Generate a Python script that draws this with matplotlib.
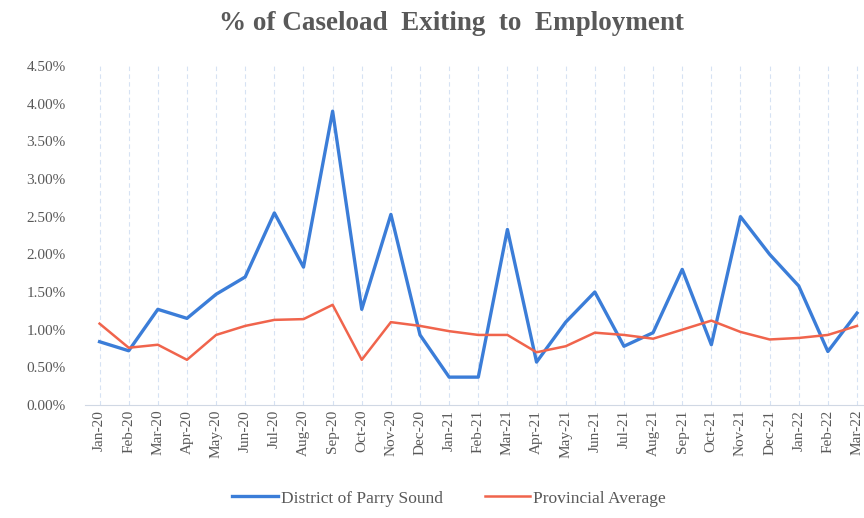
import matplotlib
matplotlib.use("Agg")
import matplotlib.pyplot as plt
from matplotlib.ticker import FuncFormatter

months = ["Jan-20", "Feb-20", "Mar-20", "Apr-20", "May-20", "Jun-20", "Jul-20",
          "Aug-20", "Sep-20", "Oct-20", "Nov-20", "Dec-20", "Jan-21", "Feb-21",
          "Mar-21", "Apr-21", "May-21", "Jun-21", "Jul-21", "Aug-21", "Sep-21",
          "Oct-21", "Nov-21", "Dec-21", "Jan-22", "Feb-22", "Mar-22"]

# % of caseload exiting to employment
parry_sound = [0.84, 0.72, 1.27, 1.15, 1.47, 1.70, 2.55, 1.83, 3.90, 1.27,
               2.53, 0.93, 0.37, 0.37, 2.33, 0.57, 1.10, 1.50, 0.78, 0.96,
               1.80, 0.80, 2.50, 2.00, 1.58, 0.71, 1.22]
provincial = [1.08, 0.76, 0.80, 0.60, 0.93, 1.05, 1.13, 1.14, 1.33, 0.60,
              1.10, 1.05, 0.98, 0.93, 0.93, 0.70, 0.78, 0.96, 0.93, 0.88,
              1.00, 1.12, 0.97, 0.87, 0.89, 0.93, 1.05]

plt.rcParams['font.family'] = ['Liberation Serif', 'DejaVu Serif']
text_color = '#595959'

fig = plt.figure(figsize=(8.64, 5.18), dpi=100)
ax = fig.add_axes([85 / 864, 113 / 518, 779 / 864, 339 / 518])

x = list(range(len(months)))
ax.plot(x, parry_sound, color='#3b7dd8', linewidth=2.4, label='District of Parry Sound')
ax.plot(x, provincial, color='#f0644c', linewidth=1.8, label='Provincial Average')

ax.set_xlim(-0.5, 26.24)
ax.set_ylim(0, 4.5)
ax.set_yticks([i * 0.5 for i in range(10)])
ax.yaxis.set_major_formatter(FuncFormatter(lambda v, p: f"{v:.2f}%"))
ax.set_xticks(x)
ax.set_xticklabels(months, rotation=90)
ax.tick_params(axis='both', length=0, colors=text_color, labelsize=11)
ax.tick_params(axis='y', pad=14)

ax.grid(axis='x', color='#d6e2f3', linestyle=(0, (4, 3)), linewidth=0.8)
for side in ['top', 'right', 'left']:
    ax.spines[side].set_visible(False)
ax.spines['bottom'].set_color('#d0d8e4')

fig.suptitle('% of Caseload  Exiting  to  Employment', x=0.522, y=0.978,
             fontsize=19.5, fontweight='bold', color=text_color)

fig.legend(loc='lower center', bbox_to_anchor=(0.52, -0.008), ncol=2, frameon=False,
           fontsize=12.5, handlelength=2.6, handletextpad=0.2, columnspacing=2.4,
           labelcolor=text_color)

fig.savefig('out.png', dpi=100)
